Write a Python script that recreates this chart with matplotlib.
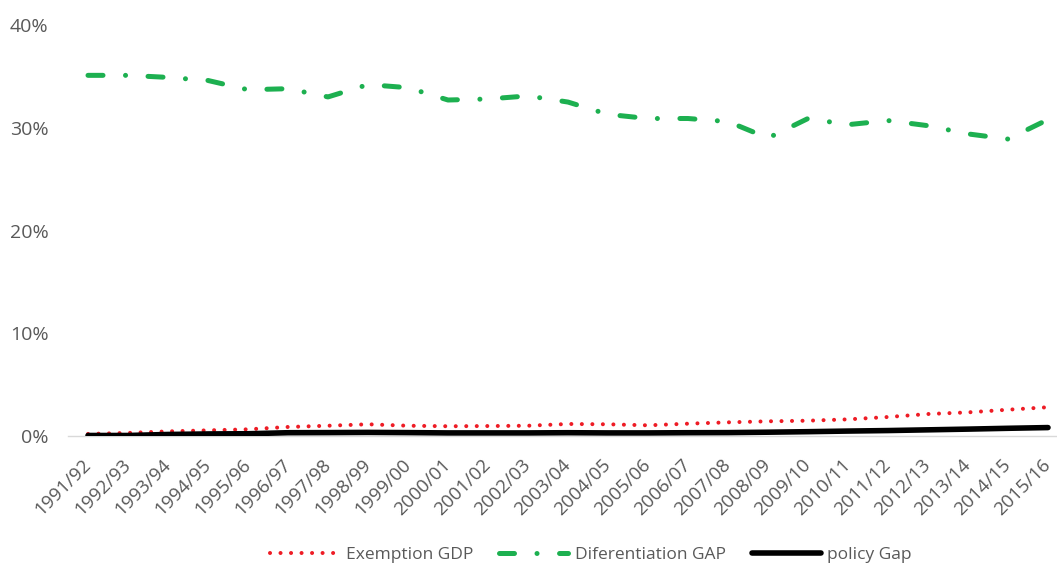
import matplotlib
matplotlib.use("Agg")
import matplotlib.pyplot as plt
from matplotlib.ticker import PercentFormatter

years = ["1991/92", "1992/93", "1993/94", "1994/95", "1995/96", "1996/97",
         "1997/98", "1998/99", "1999/00", "2000/01", "2001/02", "2002/03",
         "2003/04", "2004/05", "2005/06", "2006/07", "2007/08", "2008/09",
         "2009/10", "2010/11", "2011/12", "2012/13", "2013/14", "2014/15",
         "2015/16"]

exemption_gdp = [0.20, 0.30, 0.45, 0.55, 0.65, 0.88, 1.00, 1.14, 1.00, 0.95,
                 0.97, 1.00, 1.17, 1.14, 1.04, 1.20, 1.33, 1.43, 1.49, 1.62,
                 1.85, 2.14, 2.30, 2.56, 2.80]

differentiation_gap = [35.1, 35.1, 34.9, 34.6, 33.7, 33.8, 33.0, 34.2, 33.9,
                       32.7, 32.8, 33.1, 32.5, 31.3, 30.9, 30.9, 30.6, 29.0,
                       30.9, 30.3, 30.7, 30.2, 29.4, 28.9, 30.8]

policy_gap = [0.05, 0.05, 0.15, 0.20, 0.22, 0.32, 0.33, 0.35, 0.33, 0.30,
              0.30, 0.30, 0.32, 0.30, 0.30, 0.32, 0.33, 0.37, 0.42, 0.48,
              0.53, 0.60, 0.67, 0.75, 0.82]

series_labels = ["Exemption GDP", "Diferentiation GAP", "policy Gap"]

plt.rcParams["font.family"] = ["Open Sans", "DejaVu Sans"]
text_grey = "#595959"

fig = plt.figure(figsize=(10.57, 5.65), dpi=100)
ax = fig.add_axes([68 / 1057, 129 / 565, (1057 - 68) / 1057, (436 - 25) / 565])

x = list(range(len(years)))

ax.plot(x, exemption_gdp, color="#EE1C25", lw=2.9, linestyle=(0, (0.01, 2.6)),
        dash_capstyle="round", solid_capstyle="round", label=series_labels[0])
ax.plot(x, differentiation_gap, color="#1DB050", lw=3.6,
        linestyle=(0, (3, 4.5, 0.01, 4.5)), dash_capstyle="round",
        label=series_labels[1])
ax.plot(x, policy_gap, color="black", lw=4.0, solid_capstyle="round",
        label=series_labels[2], zorder=3)

ax.set_xlim(-0.5, 24.225)
ax.set_ylim(0, 40)
ax.yaxis.set_major_formatter(PercentFormatter(decimals=0))
ax.set_yticks([0, 10, 20, 30, 40])
ax.set_xticks(x)
ax.set_xticklabels(years, rotation=45, ha="right", va="center",
                   rotation_mode="anchor", fontsize=13.5, color=text_grey)
ax.tick_params(axis="y", length=0, labelsize=14, labelcolor=text_grey, pad=14)
ax.tick_params(axis="x", length=0, pad=19)

for side in ("top", "right", "left"):
    ax.spines[side].set_visible(False)
ax.spines["bottom"].set_color("#D9D9D9")
ax.spines["bottom"].set_linewidth(1.0)

leg = fig.legend(loc="center", bbox_to_anchor=(0.559, 0.018), ncol=3,
                 frameon=False, fontsize=12.5, handlelength=4.0,
                 columnspacing=1.5, handletextpad=0.35, borderaxespad=0)
for t in leg.get_texts():
    t.set_color(text_grey)

fig.savefig("out.png", dpi=100)
